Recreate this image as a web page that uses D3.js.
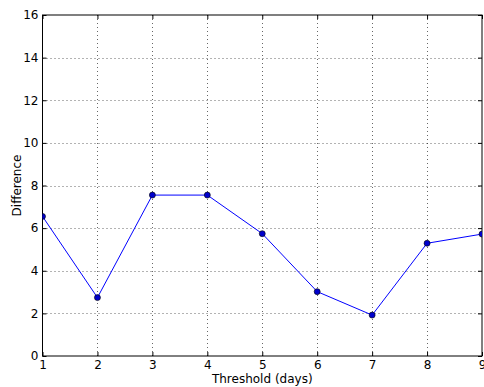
<!DOCTYPE html>
<html>
<head>
<meta charset="utf-8">
<script src="https://cdn.jsdelivr.net/npm/d3@7"></script>
<style>
  body { margin: 0; background: #fff; }
  text { font-family: "DejaVu Sans", sans-serif; }
</style>
</head>
<body>
<div id="chart"></div>
<script>
// DATA
const thresholds = [1, 2, 3, 4, 5, 6, 7, 8, 9];
const differences = [6.55, 2.74, 7.55, 7.55, 5.74, 3.02, 1.92, 5.29, 5.72];
const xTicks = [1, 2, 3, 4, 5, 6, 7, 8, 9];
const yTicks = [0, 2, 4, 6, 8, 10, 12, 14, 16];

const width = 484, height = 387,
  margin = { top: 15, right: 2, bottom: 31, left: 42.5 };

const svg = d3.select("#chart").append("svg")
  .attr("width", width)
  .attr("height", height);

const xScale = d3.scaleLinear().domain([1, 9])
  .range([margin.left, width - margin.right]);
const yScale = d3.scaleLinear().domain([0, 16])
  .range([height - margin.bottom, margin.top]);

// grid
svg.append("g").selectAll("line")
  .data(xTicks.slice(1, -1))
  .join("line")
  .attr("x1", d => Math.round(xScale(d)) + 0.5)
  .attr("x2", d => Math.round(xScale(d)) + 0.5)
  .attr("y1", yScale(0)).attr("y2", yScale(16))
  .attr("stroke", "#000").attr("stroke-width", 0.6)
  .attr("stroke-dasharray", "1,3");

svg.append("g").selectAll("line")
  .data(yTicks.slice(1, -1))
  .join("line")
  .attr("y1", d => Math.round(yScale(d)) + 0.5)
  .attr("y2", d => Math.round(yScale(d)) + 0.5)
  .attr("x1", xScale(1)).attr("x2", xScale(9))
  .attr("stroke", "#000").attr("stroke-width", 0.6)
  .attr("stroke-dasharray", "1,3");

// axes: ticks point inward, mirrored on top/right
const xAxis = d3.axisBottom(xScale).tickValues(xTicks).tickSizeInner(-4).tickSizeOuter(0).tickPadding(4);
const yAxis = d3.axisLeft(yScale).tickValues(yTicks).tickSizeInner(-4).tickSizeOuter(0).tickPadding(4);

svg.append("g")
  .attr("transform", `translate(0,${yScale(0)})`)
  .call(xAxis)
  .call(g => g.select(".domain").remove());
svg.append("g")
  .attr("transform", `translate(${xScale(1)},0)`)
  .call(yAxis)
  .call(g => g.select(".domain").remove());
svg.append("g")
  .attr("transform", `translate(0,${yScale(16)})`)
  .call(d3.axisTop(xScale).tickValues(xTicks).tickSizeInner(-4).tickSizeOuter(0).tickFormat(""))
  .call(g => g.select(".domain").remove());
svg.append("g")
  .attr("transform", `translate(${xScale(9)},0)`)
  .call(d3.axisRight(yScale).tickValues(yTicks).tickSizeInner(-4).tickSizeOuter(0).tickFormat(""))
  .call(g => g.select(".domain").remove());

svg.selectAll(".tick text").attr("font-size", 12).attr("fill", "#000")
  .attr("font-family", "DejaVu Sans, sans-serif");
svg.selectAll(".tick line").attr("stroke", "#000");

// frame
svg.append("rect")
  .attr("x", xScale(1)).attr("y", yScale(16))
  .attr("width", xScale(9) - xScale(1))
  .attr("height", yScale(0) - yScale(16))
  .attr("fill", "none").attr("stroke", "#000").attr("stroke-width", 1);

// line
const data = thresholds.map((t, i) => ({ t, v: differences[i] }));
const clip = svg.append("clipPath").attr("id", "clip").append("rect")
  .attr("x", xScale(1)).attr("y", yScale(16))
  .attr("width", xScale(9) - xScale(1)).attr("height", yScale(0) - yScale(16));

const plot = svg.append("g").attr("clip-path", "url(#clip)");
plot.append("path")
  .datum(data)
  .attr("d", d3.line().x(d => xScale(d.t)).y(d => yScale(d.v)))
  .attr("fill", "none").attr("stroke", "#0000ff").attr("stroke-width", 1);

plot.selectAll("circle")
  .data(data)
  .join("circle")
  .attr("cx", d => xScale(d.t))
  .attr("cy", d => yScale(d.v))
  .attr("r", 3)
  .attr("fill", "#0000cc").attr("stroke", "#000").attr("stroke-width", 0.6);

// labels
svg.append("text")
  .attr("x", (xScale(1) + xScale(9)) / 2).attr("y", 383)
  .attr("text-anchor", "middle").attr("font-size", 12)
  .text("Threshold (days)");
svg.append("text")
  .attr("transform", `translate(21,${(yScale(0) + yScale(16)) / 2}) rotate(-90)`)
  .attr("text-anchor", "middle").attr("font-size", 12)
  .text("Difference");
</script>
</body>
</html>
